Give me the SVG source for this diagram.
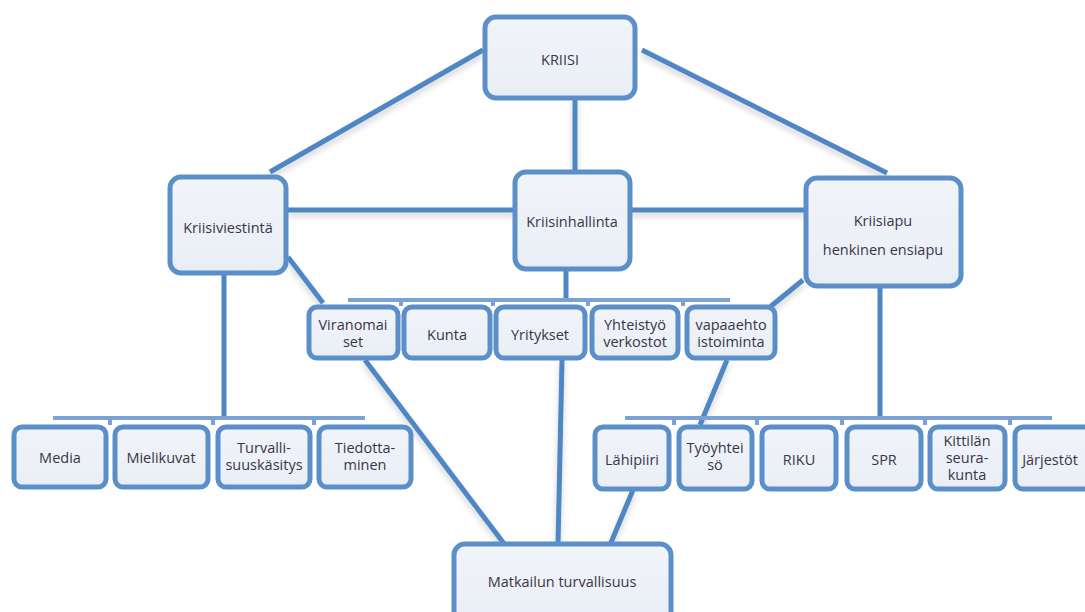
<svg xmlns="http://www.w3.org/2000/svg" width="1085" height="612" viewBox="0 0 1085 612">
  <defs>
    <linearGradient id="boxFill" x1="0" y1="0" x2="0" y2="1">
      <stop offset="0" stop-color="#f1f4f9"/>
      <stop offset="1" stop-color="#e9eef6"/>
    </linearGradient>
    <filter id="soft" x="-20%" y="-20%" width="140%" height="160%">
      <feDropShadow dx="0" dy="4" stdDeviation="3" flood-color="#000" flood-opacity="0.18"/>
    </filter>
  </defs>
  <style>
    .box { fill: url(#boxFill); stroke: #5b8fc9; stroke-width: 5; }
    .link { stroke: #4f86c4; stroke-width: 5; fill: none; stroke-linecap: butt; }
    .bar { stroke: #7aa3d3; stroke-width: 4; fill: none; }
    text { font-family: "Open Sans", "Liberation Sans", sans-serif; font-size: 14.5px; fill: #3a3548; text-anchor: middle; }
  </style>

  <rect width="1085" height="612" fill="#ffffff"/>

  <g id="connectors">
    <g filter="url(#soft)">
      <line class="link" x1="483" y1="50" x2="270" y2="172"/>
      <line class="link" x1="642" y1="50" x2="887" y2="173"/>
      <line class="link" x1="575" y1="98" x2="575" y2="172"/>
      <line class="link" x1="288" y1="210" x2="515" y2="210"/>
      <line class="link" x1="630" y1="210" x2="806" y2="210"/>
      <line class="link" x1="288" y1="257" x2="323" y2="303"/>
      <line class="link" x1="803" y1="280" x2="770" y2="307"/>
      <line class="link" x1="365" y1="360" x2="505" y2="545"/>
      <line class="link" x1="562" y1="360" x2="558" y2="545"/>
      <line class="link" x1="727" y1="360" x2="700" y2="425"/>
      <line class="link" x1="633" y1="490" x2="610" y2="545"/>
    </g>
    <line class="link" x1="566" y1="269" x2="566" y2="300"/>
    <line class="link" x1="224" y1="273" x2="224" y2="418"/>
    <line class="link" x1="880" y1="286" x2="880" y2="418"/>
    <path class="bar" d="M348 300 H730 M401 300 V306 M493 300 V306 M588 300 V306 M683 300 V306"/>
    <path class="bar" d="M53 418 H365 M110 418 V425 M213 418 V425 M314 418 V425"/>
    <path class="bar" d="M625 418 H1052 M674 418 V425 M757 418 V425 M842 418 V425 M925 418 V425 M1010 418 V425"/>
  </g>

  <g id="kriisi">
    <rect class="box" x="485" y="17" width="150" height="81" rx="11"/>
    <text x="560" y="65">KRIISI</text>
  </g>
  <g id="kriisiviestinta">
    <rect class="box" x="170" y="177" width="116" height="96" rx="11"/>
    <text x="228" y="233">Kriisiviestintä</text>
  </g>
  <g id="kriisinhallinta">
    <rect class="box" x="515" y="172" width="115" height="97" rx="11"/>
    <text x="572" y="227">Kriisinhallinta</text>
  </g>
  <g id="kriisiapu">
    <rect class="box" x="806" y="178" width="155" height="108" rx="11"/>
    <text x="883" y="226">Kriisiapu</text>
    <text x="883" y="255">henkinen ensiapu</text>
  </g>

  <g id="viranomaiset">
    <rect class="box" x="309" y="307" width="89" height="51" rx="8"/>
    <text x="353" y="330">Viranomai</text>
    <text x="353" y="347">set</text>
  </g>
  <g id="kunta">
    <rect class="box" x="404" y="307" width="86" height="51" rx="8"/>
    <text x="447" y="340">Kunta</text>
  </g>
  <g id="yritykset">
    <rect class="box" x="496" y="307" width="89" height="51" rx="8"/>
    <text x="540" y="340">Yritykset</text>
  </g>
  <g id="yhteistyoverkostot">
    <rect class="box" x="592" y="307" width="86" height="51" rx="8"/>
    <text x="635" y="330">Yhteistyö</text>
    <text x="635" y="347">verkostot</text>
  </g>
  <g id="vapaaehtoistoiminta">
    <rect class="box" x="687" y="307" width="88" height="51" rx="8"/>
    <text x="731" y="330">vapaaehto</text>
    <text x="731" y="347">istoiminta</text>
  </g>

  <g id="media">
    <rect class="box" x="14" y="427" width="92" height="60" rx="8"/>
    <text x="60" y="463">Media</text>
  </g>
  <g id="mielikuvat">
    <rect class="box" x="115" y="427" width="93" height="60" rx="8"/>
    <text x="161" y="463">Mielikuvat</text>
  </g>
  <g id="turvallisuuskasitys">
    <rect class="box" x="218" y="427" width="92" height="60" rx="8"/>
    <text x="264" y="453">Turvalli-</text>
    <text x="264" y="470">suuskäsitys</text>
  </g>
  <g id="tiedottaminen">
    <rect class="box" x="319" y="427" width="92" height="60" rx="8"/>
    <text x="365" y="453">Tiedotta-</text>
    <text x="365" y="470">minen</text>
  </g>

  <g id="lahipiiri">
    <rect class="box" x="595" y="427" width="74" height="62" rx="8"/>
    <text x="632" y="465">Lähipiiri</text>
  </g>
  <g id="tyoyhteiso">
    <rect class="box" x="679" y="427" width="73" height="62" rx="8"/>
    <text x="715" y="453">Työyhtei</text>
    <text x="715" y="470">sö</text>
  </g>
  <g id="riku">
    <rect class="box" x="762" y="427" width="74" height="62" rx="8"/>
    <text x="799" y="465">RIKU</text>
  </g>
  <g id="spr">
    <rect class="box" x="847" y="427" width="74" height="62" rx="8"/>
    <text x="884" y="465">SPR</text>
  </g>
  <g id="kittilan-seurakunta">
    <rect class="box" x="930" y="427" width="75" height="62" rx="8"/>
    <text x="967" y="446">Kittilän</text>
    <text x="967" y="463">seura-</text>
    <text x="967" y="480">kunta</text>
  </g>
  <g id="jarjestot">
    <rect class="box" x="1015" y="427" width="80" height="62" rx="8"/>
    <text x="1050" y="465">Järjestöt</text>
  </g>

  <g id="matkailun-turvallisuus">
    <rect class="box" x="454" y="544" width="217" height="80" rx="11"/>
    <text x="562" y="587">Matkailun turvallisuus</text>
  </g>
</svg>
